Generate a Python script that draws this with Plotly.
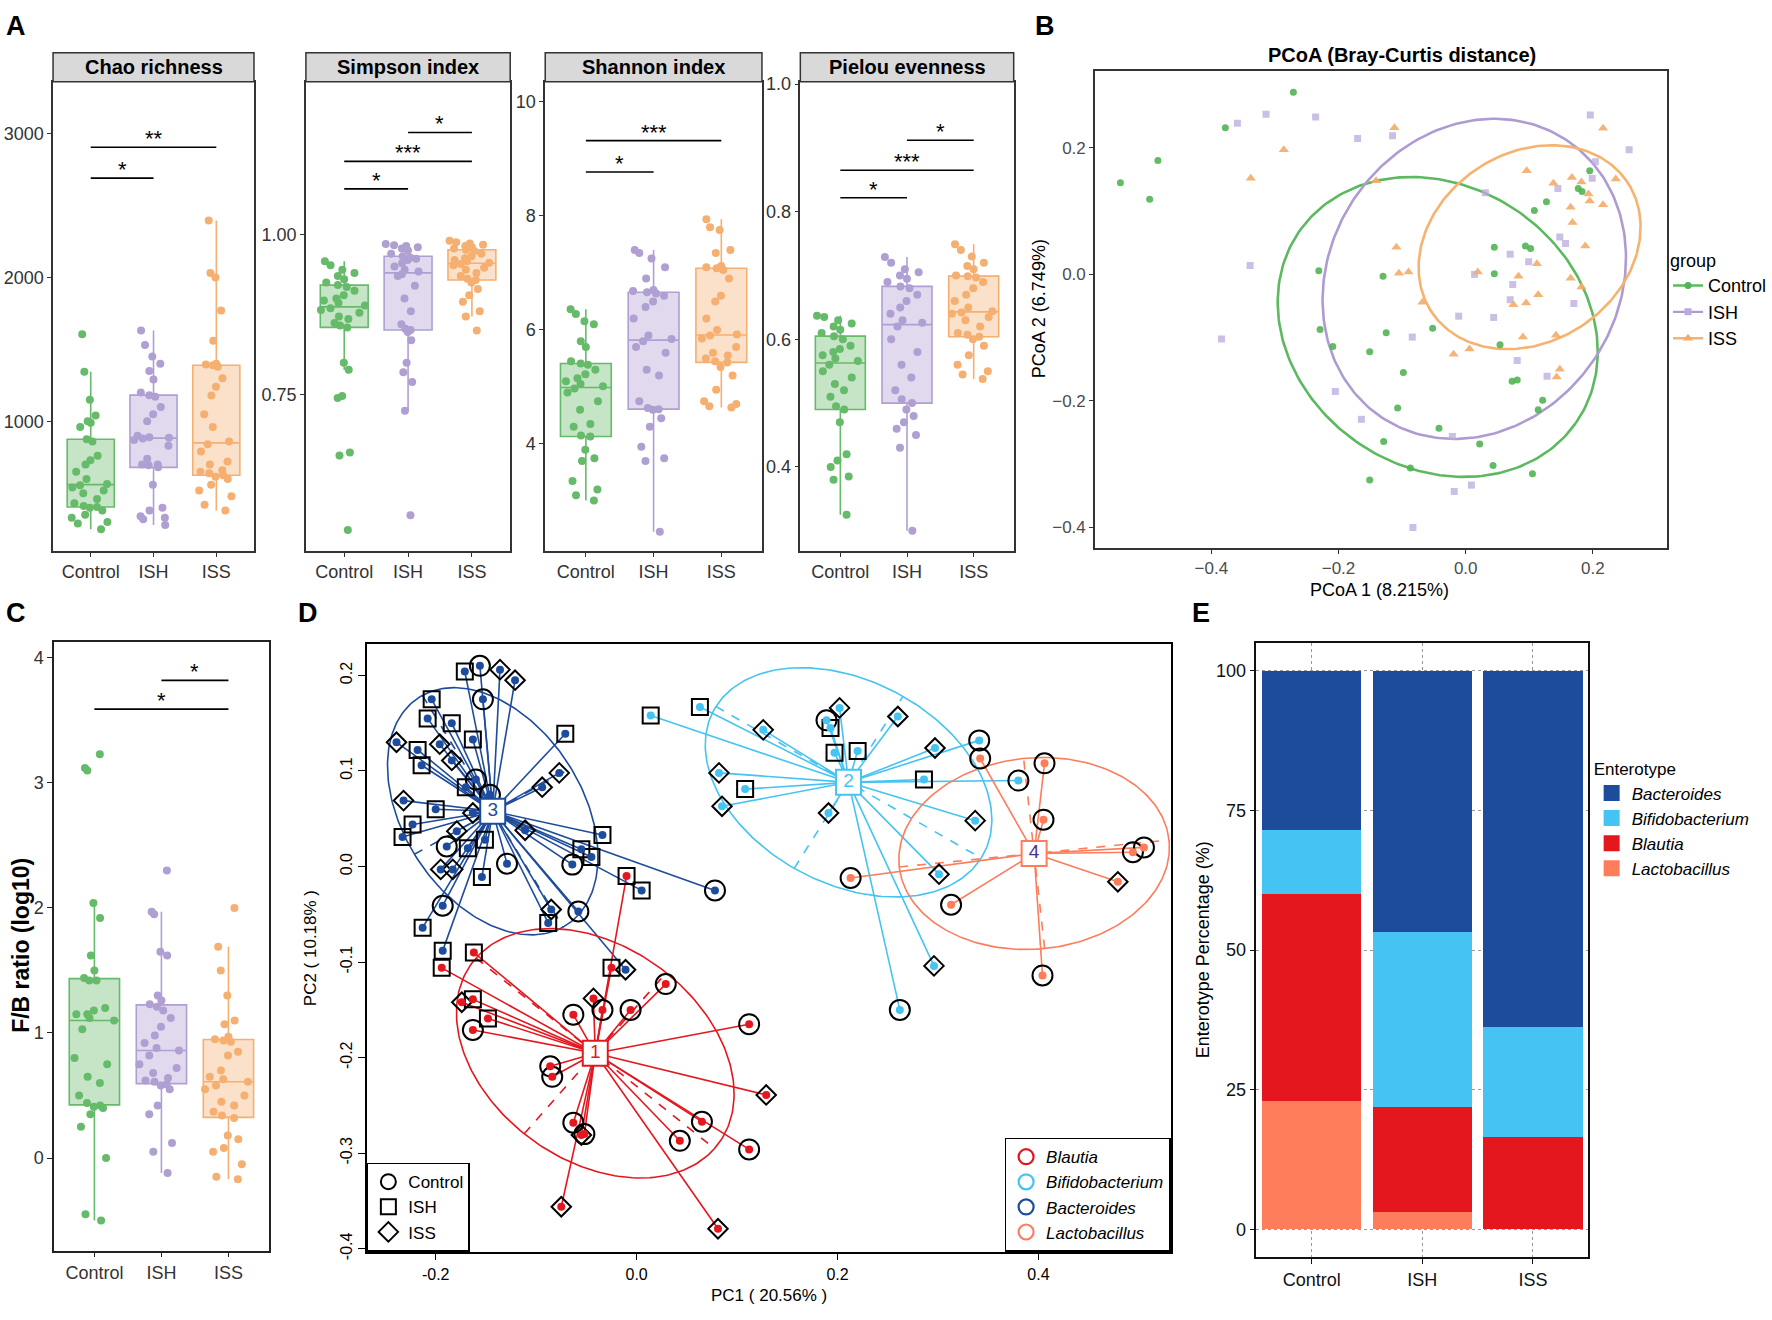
import numpy as np
import plotly.graph_objects as go

FONT = "Liberation Sans, Arial, Helvetica, sans-serif"

# ======================= DATA =======================
groups = ["Control", "ISH", "ISS"]

# ---- A: alpha diversity (values per sample) ----
chao_control = [250, 290, 300, 330, 350, 380, 400, 405, 412, 430, 460, 500, 520, 540, 555, 565, 600, 650, 700, 730, 760, 860, 875, 960, 990, 1000, 1040, 1150, 1345, 1605]
chao_ish = [280, 320, 330, 340, 380, 400, 560, 680, 695, 700, 700, 740, 830, 870, 880, 886, 890, 900, 1000, 1050, 1100, 1170, 1182, 1200, 1290, 1350, 1400, 1450, 1530, 1632]
chao_iss = [380, 420, 480, 520, 560, 600, 615, 625, 640, 650, 660, 700, 720, 790, 840, 860, 960, 1050, 1180, 1240, 1300, 1380, 1390, 1395, 1400, 1560, 1770, 2000, 2030, 2395]

simpson_control = [0.539, 0.655, 0.66, 0.745, 0.748, 0.789, 0.80, 0.855, 0.858, 0.862, 0.868, 0.872, 0.878, 0.882, 0.885, 0.889, 0.893, 0.897, 0.90, 0.905, 0.912, 0.918, 0.921, 0.925, 0.93, 0.935, 0.94, 0.945, 0.952, 0.958]
simpson_ish = [0.562, 0.725, 0.77, 0.785, 0.80, 0.835, 0.848, 0.851, 0.853, 0.86, 0.88, 0.90, 0.92, 0.935, 0.938, 0.942, 0.945, 0.95, 0.955, 0.96, 0.962, 0.964, 0.966, 0.97, 0.975, 0.978, 0.98, 0.982, 0.983, 0.985]
simpson_iss = [0.85, 0.872, 0.88, 0.895, 0.905, 0.915, 0.925, 0.929, 0.931, 0.935, 0.94, 0.945, 0.948, 0.952, 0.954, 0.956, 0.958, 0.96, 0.963, 0.966, 0.97, 0.974, 0.976, 0.978, 0.98, 0.982, 0.984, 0.986, 0.988, 0.99]

shannon_control = [3.01, 3.1, 3.2, 3.35, 3.7, 3.75, 3.9, 4.13, 4.15, 4.3, 4.35, 4.6, 4.75, 4.9, 4.97, 5.01, 5.05, 5.1, 5.15, 5.22, 5.3, 5.39, 5.41, 5.45, 5.7, 5.8, 6.1, 6.15, 6.28, 6.36]
shannon_ish = [2.46, 3.7, 3.75, 3.95, 4.3, 4.45, 4.6, 4.61, 4.63, 4.75, 5.2, 5.3, 5.6, 5.7, 5.8, 5.84, 5.9, 6.2, 6.4, 6.5, 6.6, 6.64, 6.66, 6.68, 6.7, 6.9, 7.1, 7.25, 7.35, 7.40]
shannon_iss = [4.64, 4.66, 4.7, 4.75, 4.95, 5.2, 5.35, 5.43, 5.45, 5.5, 5.55, 5.6, 5.7, 5.85, 5.9, 5.92, 6.0, 6.2, 6.5, 6.6, 6.9, 7.05, 7.08, 7.1, 7.12, 7.35, 7.4, 7.75, 7.8, 7.94]

pielou_control = [0.325, 0.38, 0.385, 0.40, 0.41, 0.42, 0.47, 0.49, 0.495, 0.51, 0.52, 0.53, 0.54, 0.55, 0.56, 0.566, 0.57, 0.575, 0.58, 0.585, 0.59, 0.60, 0.605, 0.61, 0.615, 0.62, 0.625, 0.63, 0.635, 0.637]
pielou_ish = [0.30, 0.43, 0.45, 0.46, 0.47, 0.48, 0.49, 0.50, 0.506, 0.52, 0.54, 0.56, 0.58, 0.60, 0.62, 0.626, 0.63, 0.64, 0.65, 0.66, 0.67, 0.68, 0.683, 0.69, 0.695, 0.70, 0.705, 0.71, 0.72, 0.729]
pielou_iss = [0.538, 0.545, 0.55, 0.56, 0.575, 0.59, 0.60, 0.604, 0.607, 0.61, 0.62, 0.63, 0.635, 0.64, 0.642, 0.644, 0.65, 0.66, 0.67, 0.68, 0.69, 0.697, 0.699, 0.70, 0.71, 0.715, 0.72, 0.73, 0.74, 0.749]

chao_sig = [(1, 2, 2690, "*"), (1, 3, 2905, "**")]
simpson_sig = [(1, 2, 1.071, "*"), (1, 3, 1.114, "***"), (2, 3, 1.159, "*")]
shannon_sig = [(1, 2, 8.77, "*"), (1, 3, 9.32, "***")]
pielou_sig = [(1, 2, 0.822, "*"), (1, 3, 0.865, "***"), (2, 3, 0.912, "*")]

# ---- C: F/B ratio (log10) ----
fb_control = [-0.5, -0.45, 0.0, 0.25, 0.35, 0.4, 0.41, 0.42, 0.44, 0.5, 0.6, 0.65, 0.75, 0.8, 1.03, 1.10, 1.12, 1.15, 1.15, 1.18, 1.2, 1.42, 1.42, 1.44, 1.5, 1.62, 1.92, 2.04, 3.1, 3.12, 3.23]
fb_ish = [-0.12, 0.05, 0.12, 0.35, 0.42, 0.55, 0.58, 0.59, 0.61, 0.62, 0.64, 0.68, 0.72, 0.75, 0.82, 0.86, 0.88, 0.92, 0.98, 1.05, 1.12, 1.18, 1.21, 1.23, 1.26, 1.3, 1.62, 1.65, 1.95, 1.97, 2.3]
fb_iss = [-0.17, -0.15, -0.05, 0.05, 0.08, 0.15, 0.18, 0.32, 0.34, 0.37, 0.42, 0.45, 0.5, 0.55, 0.58, 0.61, 0.63, 0.65, 0.7, 0.82, 0.85, 0.93, 0.94, 0.95, 0.97, 1.07, 1.1, 1.3, 1.5, 1.69, 2.0]
fb_sig = [(1, 3, 3.59, "*"), (2, 3, 3.82, "*")]

# ---- B: PCoA (Bray-Curtis) ----
pcoa_control_x = [0.195, 0.177, 0.183, 0.127, 0.108, 0.045, 0.094, 0.102, -0.231, -0.130, 0.045, -0.229, -0.125, -0.052, -0.209, -0.151, 0.054, -0.098, 0.073, 0.081, -0.107, 0.121, 0.114, -0.042, -0.129, 0.022, -0.087, 0.043, -0.151, 0.105, -0.543, -0.497, -0.484, -0.378, -0.271]
pcoa_control_y = [0.164, 0.136, 0.131, 0.115, 0.101, 0.043, 0.045, 0.041, 0.006, -0.003, 0.001, -0.087, -0.092, -0.085, -0.114, -0.122, -0.111, -0.155, -0.169, -0.167, -0.211, -0.199, -0.214, -0.243, -0.264, -0.268, -0.306, -0.302, -0.325, -0.315, 0.145, 0.119, 0.180, 0.232, 0.288]
pcoa_ish_x = [-0.236, -0.170, -0.115, 0.196, 0.257, 0.204, 0.199, 0.145, 0.031, 0.148, 0.157, 0.070, 0.099, 0.014, 0.074, 0.070, -0.011, 0.044, 0.170, -0.084, 0.081, 0.128, -0.205, -0.164, -0.021, -0.018, 0.009, -0.083, -0.359, -0.314, -0.339, -0.384]
pcoa_ish_y = [0.249, 0.215, 0.219, 0.252, 0.197, 0.178, 0.152, 0.136, 0.129, 0.059, 0.049, 0.032, 0.020, 0.000, -0.016, -0.040, -0.066, -0.068, -0.046, -0.099, -0.136, -0.161, -0.185, -0.229, -0.256, -0.343, -0.333, -0.400, 0.239, 0.253, 0.014, -0.102]
pcoa_iss_x = [-0.112, 0.216, 0.096, 0.138, 0.167, 0.182, 0.236, 0.193, 0.195, 0.216, 0.165, 0.168, 0.188, -0.109, -0.105, -0.090, 0.019, 0.112, 0.083, 0.165, 0.182, -0.068, 0.114, 0.075, 0.095, -0.019, 0.006, 0.090, 0.142, 0.148, 0.143, -0.141, -0.286, -0.338]
pcoa_iss_y = [0.232, 0.231, 0.164, 0.144, 0.153, 0.146, 0.151, 0.127, 0.116, 0.110, 0.106, 0.082, 0.045, 0.043, 0.002, 0.004, 0.004, 0.017, -0.003, -0.006, -0.020, -0.044, -0.032, -0.048, -0.045, -0.126, -0.118, -0.099, -0.096, -0.150, -0.162, 0.148, 0.197, 0.152]
# confidence ellipses: centre x, centre y, semi-axis a, semi-axis b, angle (deg)
pcoa_ellipse_control = (-0.044, -0.083, 0.265, 0.222, -35)
pcoa_ellipse_ish = (0.0135, -0.007, 0.263, 0.2275, 57)
pcoa_ellipse_iss = (0.1005, 0.043, 0.185, 0.149, 34)

# ---- D: enterotype PCA (PC1, PC2, group: C=Control, H=ISH, S=ISS) ----
blautia_x = [-0.010, -0.194, -0.162, -0.148, -0.163, -0.025, -0.063, -0.034, -0.006, 0.029, -0.163, -0.086, -0.084, -0.063, -0.052, 0.112, 0.065, 0.043, 0.112, -0.174, -0.043, -0.055, 0.129, -0.075, 0.081]
blautia_y = [-0.010, -0.106, -0.090, -0.159, -0.139, -0.106, -0.155, -0.150, -0.150, -0.123, -0.171, -0.209, -0.220, -0.268, -0.280, -0.165, -0.267, -0.287, -0.296, -0.142, -0.138, -0.281, -0.239, -0.356, -0.379]
blautia_grp = "HHHHHHCCCCCCCCCCCCCSSSSSS"
bifido_x = [0.202, 0.189, 0.193, 0.197, 0.220, 0.260, 0.297, 0.341, 0.286, 0.380, 0.337, 0.301, 0.191, 0.296, 0.262, 0.126, 0.014, 0.063, 0.082, 0.108, 0.085]
bifido_y = [0.166, 0.153, 0.145, 0.119, 0.121, 0.157, 0.124, 0.132, 0.091, 0.090, 0.048, -0.008, 0.056, -0.104, -0.150, 0.143, 0.158, 0.167, 0.098, 0.081, 0.063]
bifido_grp = "SCHHHSSCHCSSSSCSHHSHS"
bactero_x = [-0.171, -0.204, -0.208, -0.184, -0.163, -0.218, -0.214, -0.170, -0.200, -0.223, -0.233, -0.151, -0.168, -0.034, -0.055, -0.045, -0.154, 0.005, -0.213, -0.193, -0.088, -0.071,
             -0.156, -0.153, -0.160, -0.146, -0.189, -0.129, -0.064, -0.193, -0.058, 0.078,
             -0.136, -0.121, -0.239, -0.196, -0.184, -0.232, -0.179, -0.195, -0.183, -0.094, -0.077, -0.111, -0.085, -0.011, -0.163]
bactero_y = [0.204, 0.175, 0.155, 0.150, 0.133, 0.122, 0.106, 0.083, 0.060, 0.044, 0.031, 0.028, 0.019, 0.033, 0.018, 0.010, -0.011, -0.025, -0.064, -0.088, -0.059, 0.139,
             0.210, 0.175, 0.091, 0.075, 0.021, 0.003, 0.002, -0.041, -0.047, -0.025,
             0.206, 0.195, 0.130, 0.128, 0.111, 0.069, 0.037, -0.003, -0.003, 0.083, 0.098, 0.038, -0.045, -0.108, 0.056]
bactero_grp = "HHHHHHHHHHHHHHHHHHHHHHCCCCCCCCCCSSSSSSSSSSSSSSS"
lacto_x = [0.342, 0.406, 0.405, 0.213, 0.313, 0.404, 0.494, 0.505, 0.479]
lacto_y = [0.113, 0.108, 0.049, -0.012, -0.040, -0.114, 0.015, 0.020, -0.016]
lacto_grp = "CCCCCCCCS"
# class ellipses: semi-axis a, semi-axis b, angle (deg)
blautia_ellipse = (0.155, 0.110, -40)
bifido_ellipse = (0.154, 0.105, -31)
bactero_ellipse = (0.140, 0.090, -60)
lacto_ellipse = (0.135, 0.100, 6)

# ---- E: enterotype percentage ----
entero_groups = ["Control", "ISH", "ISS"]
lacto_pct = [22.9, 3.1, 0.0]
blautia_pct = [37.1, 18.8, 16.6]
bifido_pct = [11.4, 31.3, 19.6]
bactero_pct = [28.6, 46.8, 63.8]

# ======================= STYLE / LAYOUT =======================
RW, RH = 1568.0, 1168.0   # layout reference frame


def fx(v):
    return v / RW


def fy(v):
    return 1.0 - v / RH


GCOL = {"Control": "#66BB6A", "ISH": "#AF9FD3", "ISS": "#F5AF70"}
BCOL = {"Control": "#52B455", "ISH": "#BBAADD", "ISS": "#F4AC68"}
BELL = {"Control": "#5DB95F", "ISH": "#AE9BD2", "ISS": "#F6B26F"}
ECOL = {"Blautia": "#E4171E", "Bifidobacterium": "#45C3F2", "Bacteroides": "#1E4C9C", "Lactobacillus": "#FD7C5A"}


def rgba(h, a):
    h = h.lstrip("#")
    return "rgba(%d,%d,%d,%s)" % (int(h[0:2], 16), int(h[2:4], 16), int(h[4:6], 16), a)


def axn(i, k):
    return k + ("" if i == 1 else str(i))


def ax_style(lc="#333333", lw=1.5, tf=18, tc="#333333", ticklen=5):
    return dict(showline=True, mirror=True, linecolor=lc, linewidth=lw, ticks="outside",
                ticklen=ticklen, tickwidth=1.3, tickcolor=lc, showgrid=False, zeroline=False,
                tickfont=dict(family=FONT, size=tf, color=tc))


def ellipse_xy(cx, cy, a, b, ang, n=240):
    t = np.linspace(0, 2 * np.pi, n)
    r = np.deg2rad(ang)
    return (cx + a * np.cos(t) * np.cos(r) - b * np.sin(t) * np.sin(r),
            cy + a * np.cos(t) * np.sin(r) + b * np.sin(t) * np.cos(r))


fig = go.Figure()
layout = {}
annotations = []
shapes = []


def set_axes(i, xd, yd, xcfg, ycfg):
    layout["xaxis" + ("" if i == 1 else str(i))] = dict(domain=[fx(xd[0]), fx(xd[1])], anchor=axn(i, "y"), **xcfg)
    layout["yaxis" + ("" if i == 1 else str(i))] = dict(domain=[fy(yd[1]), fy(yd[0])], anchor=axn(i, "x"), **ycfg)


def add_box_panel(i, series, sig):
    for gi, (g, vals) in enumerate(zip(groups, series)):
        fig.add_trace(go.Box(
            x=[gi + 1] * len(vals), y=vals, orientation="v", xaxis=axn(i, "x"), yaxis=axn(i, "y"),
            width=0.75, boxpoints="all", jitter=1.0, pointpos=0, whiskerwidth=0,
            fillcolor=rgba(GCOL[g], 0.38), line=dict(color=GCOL[g], width=1.6),
            marker=dict(color=GCOL[g], size=8, opacity=1), showlegend=False, hoverinfo="skip"))
    xs, ys = [], []
    for a, b, yv, lab in sig:
        xs += [a, b, None]
        ys += [yv, yv, None]
        annotations.append(dict(x=(a + b) / 2, y=yv, xref=axn(i, "x"), yref=axn(i, "y"), text=lab,
                                showarrow=False, xanchor="center", yanchor="bottom", yshift=-6,
                                font=dict(family=FONT, size=22, color="black")))
    fig.add_trace(go.Scatter(x=xs, y=ys, mode="lines", line=dict(color="black", width=1.6),
                             xaxis=axn(i, "x"), yaxis=axn(i, "y"), showlegend=False, hoverinfo="skip"))


# ---------------- Panel A ----------------
A_panels = [
    ("Chao richness", [chao_control, chao_ish, chao_iss], chao_sig, (47, 225), [98, 3359], [1000, 2000, 3000], ["1000", "2000", "3000"]),
    ("Simpson index", [simpson_control, simpson_ish, simpson_iss], simpson_sig, (271, 452), [0.506, 1.238], [0.75, 1.0], ["0.75", "1.00"]),
    ("Shannon index", [shannon_control, shannon_ish, shannon_iss], shannon_sig, (483, 675), [2.12, 10.35], [4, 6, 8, 10], ["4", "6", "8", "10"]),
    ("Pielou evenness", [pielou_control, pielou_ish, pielou_iss], pielou_sig, (709, 898), [0.268, 1.0036], [0.4, 0.6, 0.8, 1.0], ["0.4", "0.6", "0.8", "1.0"]),
]
for i, (title, series, sig, xd, yr, tv, tt) in enumerate(A_panels, start=1):
    add_box_panel(i, series, sig)
    xs = ax_style(ticklen=4)
    xs.update(range=[0.4, 3.6], tickvals=[1, 2, 3], ticktext=groups)
    ys = ax_style(ticklen=4)
    ys.update(range=yr, tickvals=tv, ticktext=tt)
    set_axes(i, xd, (67, 487), xs, ys)
    shapes.append(dict(type="rect", xref="paper", yref="paper", x0=fx(xd[0]), x1=fx(xd[1]),
                       y0=fy(67), y1=fy(41), fillcolor="#D9D9D9", line=dict(color="#333333", width=1.5)))
    annotations.append(dict(x=fx((xd[0] + xd[1]) / 2), y=fy(54), xref="paper", yref="paper",
                            text="<b>%s</b>" % title, showarrow=False, xanchor="center", yanchor="middle",
                            font=dict(family=FONT, size=20, color="black")))

# ---------------- Panel B ----------------
pcoa_sets = [("Control", pcoa_control_x, pcoa_control_y, pcoa_ellipse_control, "circle", 7),
             ("ISH", pcoa_ish_x, pcoa_ish_y, pcoa_ellipse_ish, "square", 7),
             ("ISS", pcoa_iss_x, pcoa_iss_y, pcoa_ellipse_iss, "triangle-up", 9)]
for g, px, py, ell, sym, sz in pcoa_sets:
    ex, ey = ellipse_xy(*ell)
    fig.add_trace(go.Scatter(x=ex, y=ey, mode="lines", line=dict(color=BELL[g], width=2.6),
                             xaxis="x5", yaxis="y5", showlegend=False, hoverinfo="skip"))
for g, px, py, ell, sym, sz in pcoa_sets:
    fig.add_trace(go.Scatter(x=px, y=py, mode="markers",
                             marker=dict(symbol=sym, size=sz, color=BCOL[g], opacity=0.9 if g != "ISH" else 0.75),
                             xaxis="x5", yaxis="y5", showlegend=False, hoverinfo="skip"))
for g, px, py, ell, sym, sz in pcoa_sets:
    fig.add_trace(go.Scatter(x=[None], y=[None], mode="lines+markers", name=g, legend="legend2",
                             line=dict(color=BELL[g], width=2.4),
                             marker=dict(symbol=sym, size=sz, color=BCOL[g]),
                             xaxis="x5", yaxis="y5"))
xb = ax_style(tc="#4D4D4D", tf=17, ticklen=4)
xb.update(range=[-0.583, 0.317], tickvals=[-0.4, -0.2, 0.0, 0.2], ticktext=["\u22120.4", "\u22120.2", "0.0", "0.2"])
yb = ax_style(tc="#4D4D4D", tf=17, ticklen=4)
yb.update(range=[-0.432, 0.322], tickvals=[-0.4, -0.2, 0.0, 0.2], ticktext=["\u22120.4", "\u22120.2", "0.0", "0.2"])
set_axes(5, (970, 1477), (57, 484), xb, yb)

# ---------------- Panel C ----------------
add_box_panel(6, [fb_control, fb_ish, fb_iss], fb_sig)
xc = ax_style(lc="#222222")
xc.update(range=[0.4, 3.6], tickvals=[1, 2, 3], ticktext=groups)
yc = ax_style(lc="#222222")
yc.update(range=[-0.74, 4.13], tickvals=[0, 1, 2, 3, 4])
set_axes(6, (48, 238), (568, 1113), xc, yc)

# ---------------- Panel D ----------------
clusters = [
    ("Bacteroides", bactero_x, bactero_y, bactero_grp, bactero_ellipse, "3", ECOL["Bacteroides"]),
    ("Blautia", blautia_x, blautia_y, blautia_grp, blautia_ellipse, "1", ECOL["Blautia"]),
    ("Bifidobacterium", bifido_x, bifido_y, bifido_grp, bifido_ellipse, "2", ECOL["Bifidobacterium"]),
    ("Lactobacillus", lacto_x, lacto_y, lacto_grp, lacto_ellipse, "4", "#4A2F8F"),
]
SYM = {"C": ("circle-open", 20), "H": ("square-open", 16), "S": ("diamond-open", 15)}
for name, px, py, grp, ell, lab, labcol in clusters:
    col = ECOL[name]
    cx, cy = float(np.mean(px)), float(np.mean(py))
    a, b, ang = ell
    ex, ey = ellipse_xy(cx, cy, a, b, ang)
    fig.add_trace(go.Scatter(x=ex, y=ey, mode="lines", line=dict(color=col, width=1.6),
                             xaxis="x7", yaxis="y7", showlegend=False, hoverinfo="skip"))
    r = np.deg2rad(ang)
    axx = [cx - a * np.cos(r), cx + a * np.cos(r), None, cx + b * np.sin(r), cx - b * np.sin(r)]
    axy = [cy - a * np.sin(r), cy + a * np.sin(r), None, cy - b * np.cos(r), cy + b * np.cos(r)]
    fig.add_trace(go.Scatter(x=axx, y=axy, mode="lines", line=dict(color=col, width=1.6, dash="dash"),
                             xaxis="x7", yaxis="y7", showlegend=False, hoverinfo="skip"))
    sx, sy = [], []
    for xv, yv in zip(px, py):
        sx += [cx, xv, None]
        sy += [cy, yv, None]
    fig.add_trace(go.Scatter(x=sx, y=sy, mode="lines", line=dict(color=col, width=1.6),
                             xaxis="x7", yaxis="y7", showlegend=False, hoverinfo="skip"))
for name, px, py, grp, ell, lab, labcol in clusters:
    col = ECOL[name]
    for code, (sym, sz) in SYM.items():
        gx = [xv for xv, g in zip(px, grp) if g == code]
        gy = [yv for yv, g in zip(py, grp) if g == code]
        if gx:
            fig.add_trace(go.Scatter(x=gx, y=gy, mode="markers",
                                     marker=dict(symbol=sym, size=sz, color="black", line=dict(width=2)),
                                     xaxis="x7", yaxis="y7", showlegend=False, hoverinfo="skip"))
    fig.add_trace(go.Scatter(x=px, y=py, mode="markers", marker=dict(size=8, color=col),
                             xaxis="x7", yaxis="y7", showlegend=False, hoverinfo="skip"))
for name, px, py, grp, ell, lab, labcol in clusters:
    col = ECOL[name]
    cx, cy = float(np.mean(px)), float(np.mean(py))
    fig.add_trace(go.Scatter(x=[cx], y=[cy], mode="markers+text", text=[lab],
                             textposition="middle center",
                             textfont=dict(family=FONT, size=19, color=labcol),
                             marker=dict(symbol="square", size=25, color="white", line=dict(color=col, width=2)),
                             xaxis="x7", yaxis="y7", showlegend=False, hoverinfo="skip"))
for code, gname in [("C", "Control"), ("H", "ISH"), ("S", "ISS")]:
    sym, sz = SYM[code]
    fig.add_trace(go.Scatter(x=[None], y=[None], mode="markers", name=gname, legend="legend3",
                             marker=dict(symbol=sym, size=min(sz, 15), color="black", line=dict(width=2)),
                             xaxis="x7", yaxis="y7"))
for name in ["Blautia", "Bifidobacterium", "Bacteroides", "Lactobacillus"]:
    fig.add_trace(go.Scatter(x=[None], y=[None], mode="markers", name="<i>%s</i>" % name, legend="legend4",
                             marker=dict(symbol="circle-open", size=15, color=ECOL[name], line=dict(width=2.2)),
                             xaxis="x7", yaxis="y7"))
xd_ = ax_style(lc="black", tf=16, tc="black", ticklen=7)
xd_.update(range=[-0.2685, 0.5315], tickvals=[-0.2, 0.0, 0.2, 0.4], ticktext=["-0.2", "0.0", "0.2", "0.4"])
yd_ = ax_style(lc="black", tf=16, tc="black", ticklen=7)
yd_.update(range=[-0.403, 0.233], tickvals=[-0.4, -0.3, -0.2, -0.1, 0.0, 0.1, 0.2],
           ticktext=["-0.4", "-0.3", "-0.2", "-0.1", "0.0", "0.1", "0.2"], tickangle=-90)
set_axes(7, (325, 1037), (570, 1114), xd_, yd_)

# ---------------- Panel E ----------------
for name, vals in [("Lactobacillus", lacto_pct), ("Blautia", blautia_pct),
                   ("Bifidobacterium", bifido_pct), ("Bacteroides", bactero_pct)]:
    fig.add_trace(go.Bar(x=entero_groups, y=vals, width=0.9, marker=dict(color=ECOL[name], line=dict(width=0)),
                         xaxis="x8", yaxis="y8", showlegend=False, hoverinfo="skip"))
for name in ["Lactobacillus", "Blautia", "Bifidobacterium", "Bacteroides"]:
    fig.add_trace(go.Scatter(x=[None], y=[None], mode="markers", name="<i>%s</i>" % name, legend="legend",
                             marker=dict(symbol="square", size=16, color=ECOL[name]),
                             xaxis="x8", yaxis="y8"))
xe = ax_style(lc="#111111", tf=18, tc="#111111")
xe.update(range=[-0.5, 2.5], showgrid=True, gridcolor="#9A9A9A", gridwidth=1.2, griddash="dot")
ye = ax_style(lc="#111111", tf=18, tc="#111111")
ye.update(range=[-5, 105], tickvals=[0, 25, 50, 75, 100], showgrid=True, gridcolor="#9A9A9A",
          gridwidth=1.2, griddash="dot")
set_axes(8, (1113, 1407), (569, 1119), xe, ye)


# ---------------- text annotations ----------------
def ann(x, y, text, size=18, bold=False, angle=0, color="black"):
    annotations.append(dict(x=fx(x), y=fy(y), xref="paper", yref="paper", showarrow=False,
                            text="<b>%s</b>" % text if bold else text, textangle=angle,
                            xanchor="center", yanchor="middle",
                            font=dict(family=FONT, size=size, color=color)))


for letter, x, y in [("A", 14, 17), ("B", 926, 17), ("C", 14, 542), ("D", 273, 542), ("E", 1064, 542)]:
    ann(x, y, letter, size=27, bold=True)
ann(1242, 43, "PCoA (Bray-Curtis distance)", size=20, bold=True)
ann(1222, 522, "PCoA 1 (8.215%)", size=18)
ann(920, 270, "PCoA 2 (6.749%)", size=18, angle=-90)
ann(18, 840, "F/B ratio (log10)", size=23, bold=True, angle=-90)
ann(681, 1153, "PC1 ( 20.56% )", size=17)
ann(275, 842, "PC2 ( 10.18% )", size=17, angle=-90)
ann(1066, 844, "Enterotype Percentage (%)", size=18, angle=-90)

legend_font = dict(family=FONT, size=17, color="black")
fig.update_layout(
    width=1772, height=1320, margin=dict(l=0, r=0, t=0, b=0),
    paper_bgcolor="white", plot_bgcolor="white", boxmode="overlay", barmode="stack",
    showlegend=True, annotations=annotations, shapes=shapes,
    font=dict(family=FONT, color="black"),
    legend=dict(title=dict(text="Enterotype", font=legend_font), x=fx(1410), y=fy(668),
                xanchor="left", yanchor="top", traceorder="reversed", font=legend_font,
                bgcolor="rgba(0,0,0,0)", tracegroupgap=0),
    legend2=dict(title=dict(text="group", font=dict(family=FONT, size=18)), x=fx(1478), y=fy(212),
                 xanchor="left", yanchor="top", font=dict(family=FONT, size=18),
                 bgcolor="rgba(0,0,0,0)"),
    legend3=dict(x=fx(325), y=fy(1114), xanchor="left", yanchor="bottom", font=legend_font,
                 bgcolor="white", bordercolor="black", borderwidth=1.5),
    legend4=dict(x=fx(1037), y=fy(1114), xanchor="right", yanchor="bottom", font=legend_font,
                 bgcolor="white", bordercolor="black", borderwidth=1.5),
    **layout,
)

fig.write_html("out.html", config={"displayModeBar": False},
               post_script="document.body.style.margin='0px';")
